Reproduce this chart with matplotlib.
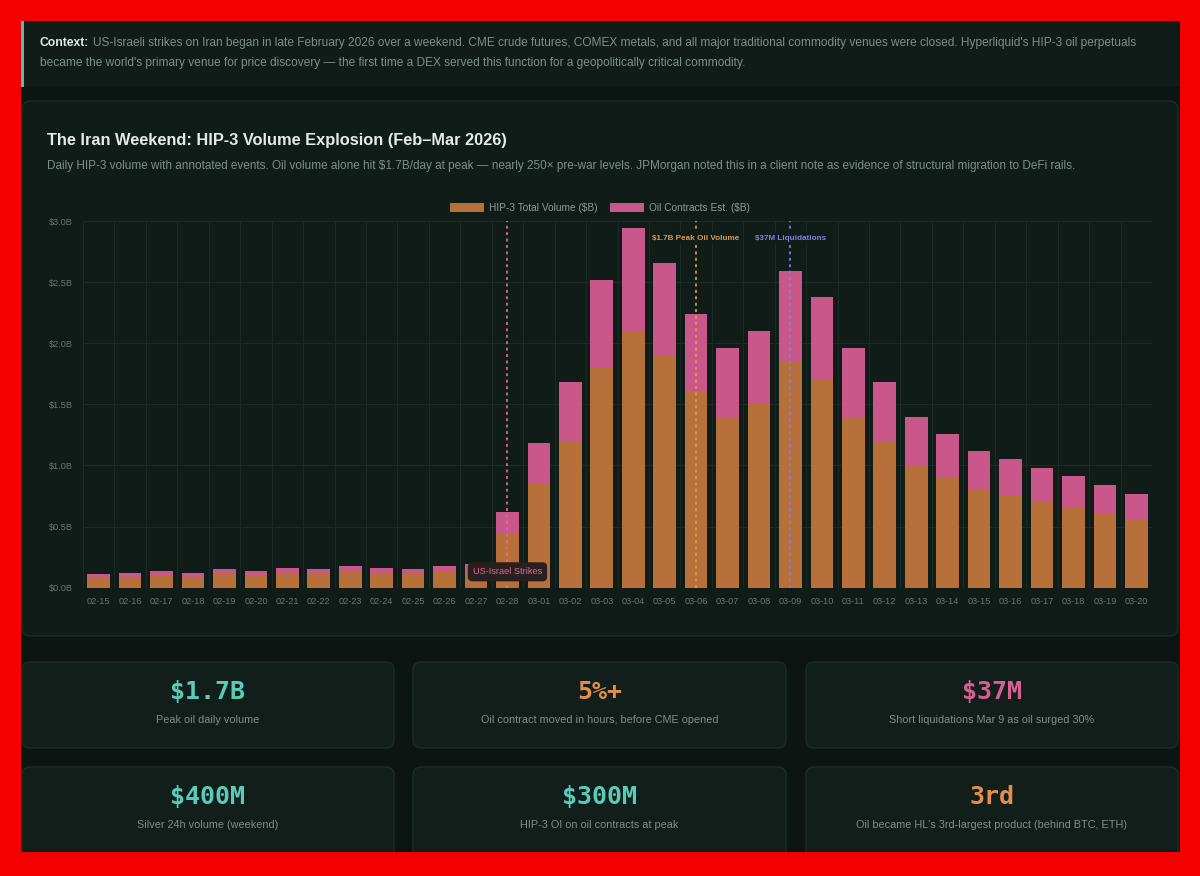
import numpy as np
import matplotlib
matplotlib.use("Agg")
import matplotlib.pyplot as plt
from matplotlib.patches import FancyBboxPatch, Rectangle, Patch

# ------------------------------------------------------------------
# Dados
# ------------------------------------------------------------------
dates = ["02-15", "02-16", "02-17", "02-18", "02-19", "02-20", "02-21",
         "02-22", "02-23", "02-24", "02-25", "02-26", "02-27", "02-28",
         "03-01", "03-02", "03-03", "03-04", "03-05", "03-06", "03-07",
         "03-08", "03-09", "03-10", "03-11", "03-12", "03-13", "03-14",
         "03-15", "03-16", "03-17", "03-18", "03-19", "03-20"]
hip3_total = [0.08, 0.09, 0.10, 0.09, 0.11, 0.10, 0.12, 0.11, 0.13, 0.12,
              0.11, 0.13, 0.14, 0.45, 0.85, 1.20, 1.80, 2.10, 1.90, 1.60,
              1.40, 1.50, 1.85, 1.70, 1.40, 1.20, 1.00, 0.90, 0.80, 0.75,
              0.70, 0.65, 0.60, 0.55]
oil_est = [0.03, 0.03, 0.04, 0.03, 0.04, 0.04, 0.04, 0.04, 0.05, 0.04,
           0.04, 0.05, 0.05, 0.17, 0.33, 0.48, 0.72, 0.84, 0.76, 0.64,
           0.56, 0.60, 0.74, 0.68, 0.56, 0.48, 0.40, 0.36, 0.32, 0.30,
           0.28, 0.26, 0.24, 0.22]

event_dates = ["02-28", "03-06", "03-09"]
event_labels = ["US-Israel Strikes", "$1.7B Peak Oil Volume", "$37M Liquidations"]

stat_values = ["$1.7B", "5%+", "$37M", "$400M", "$300M", "3rd"]
stat_labels = ["Peak oil daily volume",
               "Oil contract moved in hours, before CME opened",
               "Short liquidations Mar 9 as oil surged 30%",
               "Silver 24h volume (weekend)",
               "HIP-3 OI on oil contracts at peak",
               "Oil became HL's 3rd-largest product (behind BTC, ETH)"]

# ------------------------------------------------------------------
# Cores
# ------------------------------------------------------------------
RED = "#f40000"
PAGE = "#0c1512"
CTX_BG = "#111c19"
CARD_BG = "#101c18"
CARD_EDGE = "#1d2d28"
STAT_BG = "#121e1a"
GRID = "#1a2b26"
ORANGE = "#b8703a"
PINK = "#c9578a"
TXT = "#e4eae8"
MUTED = "#7d8f89"
TICK = "#66776f"
TEAL = "#5ccbb6"
ORANGE_V = "#e38e4c"
PINK_V = "#d6608f"

plt.rcParams["font.family"] = ["Liberation Sans", "DejaVu Sans"]

W, H = 1200, 876
fig = plt.figure(figsize=(W / 100, H / 100), dpi=100, facecolor=RED)

# eixo de fundo em coordenadas de pixel (y para baixo)
bg = fig.add_axes([0, 0, 1, 1])
bg.set_xlim(0, W)
bg.set_ylim(H, 0)
bg.axis("off")


def box(x0, y0, x1, y1, fc, ec="none", r=0, z=1, lw=1):
    if r > 0:
        p = FancyBboxPatch((x0, y0), x1 - x0, y1 - y0,
                           boxstyle=f"round,pad=0,rounding_size={r}",
                           fc=fc, ec=ec, lw=lw, zorder=z)
    else:
        p = Rectangle((x0, y0), x1 - x0, y1 - y0, fc=fc, ec=ec, lw=lw, zorder=z)
    bg.add_patch(p)


# página escura
box(21, 21, 1180, 880, PAGE, z=0)

# caixa de contexto
box(21, 21, 1180, 87, CTX_BG, z=1)
box(21, 21, 23.5, 87, "#5fb8a8", z=2)
renderer = fig.canvas.get_renderer()
t = bg.text(40, 43, "Context:", fontsize=8.7, fontweight="bold", color=TXT,
            va="center", ha="left", zorder=3)
bb = t.get_window_extent(renderer=renderer)
x_end = bg.transData.inverted().transform((bb.x1, bb.y0))[0]
bg.text(x_end + 4, 43,
        "US-Israeli strikes on Iran began in late February 2026 over a weekend. "
        "CME crude futures, COMEX metals, and all major traditional commodity venues "
        "were closed. Hyperliquid's HIP-3 oil perpetuals",
        fontsize=8.6, color=MUTED, va="center", ha="left", zorder=3)
bg.text(40, 63,
        "became the world's primary venue for price discovery \u2014 the first time a DEX "
        "served this function for a geopolitically critical commodity.",
        fontsize=8.6, color=MUTED, va="center", ha="left", zorder=3)

# cartão do gráfico
box(22, 101, 1178, 636, CARD_BG, ec=CARD_EDGE, r=9, z=1)
bg.text(47, 140, "The Iran Weekend: HIP-3 Volume Explosion (Feb\u2013Mar 2026)",
        fontsize=11.8, fontweight="bold", color=TXT, va="center", ha="left", zorder=3)
bg.text(47, 166,
        "Daily HIP-3 volume with annotated events. Oil volume alone hit $1.7B/day at peak "
        "\u2014 nearly 250\u00d7 pre-war levels. JPMorgan noted this in a client note as "
        "evidence of structural migration to DeFi rails.",
        fontsize=8.45, color=MUTED, va="center", ha="left", zorder=3)

# cartões de estatísticas
cols = [(22, 394), (413, 786), (806, 1178)]
rows = [(662, 748), (767, 870)]
value_colors = [TEAL, ORANGE_V, PINK_V, TEAL, TEAL, ORANGE_V]
for i, (val, lab) in enumerate(zip(stat_values, stat_labels)):
    (x0, x1), (y0, y1) = cols[i % 3], rows[i // 3]
    box(x0, y0, x1, y1, STAT_BG, ec=CARD_EDGE, r=8, z=1)
    cx = (x0 + x1) / 2
    bg.text(cx, y0 + 30, val, fontsize=18, fontweight="bold", color=value_colors[i],
            family="DejaVu Sans Mono", va="center", ha="center", zorder=3)
    bg.text(cx, y0 + 58, lab, fontsize=7.8, color=MUTED,
            va="center", ha="center", zorder=3)

# faixa vermelha inferior (moldura)
box(0, 852, W, H + 5, RED, z=10)
box(1180, 0, W + 5, H + 5, RED, z=10)

# ------------------------------------------------------------------
# Gráfico de barras empilhadas
# ------------------------------------------------------------------
px_l, px_r, px_t, px_b = 83, 1152, 221, 587.7
ax = fig.add_axes([px_l / W, 1 - px_b / H, (px_r - px_l) / W, (px_b - px_t) / H])
ax.set_facecolor("none")
ax.set_zorder(5)

x = np.arange(len(dates))
ax.bar(x, hip3_total, width=0.72, color=ORANGE, zorder=3)
ax.bar(x, oil_est, bottom=hip3_total, width=0.72, color=PINK, zorder=3)

ax.set_xlim(-0.5, len(dates) - 0.5)
ax.set_ylim(0, 3.0)
ax.set_yticks(np.arange(0, 3.01, 0.5))
ax.set_yticklabels([f"${v:.1f}B" for v in np.arange(0, 3.01, 0.5)])
ax.set_xticks(x)
ax.set_xticklabels(dates)
ax.set_xticks(np.arange(-0.5, len(dates), 1), minor=True)
ax.tick_params(axis="both", which="both", length=0, labelsize=6.6, colors=TICK)
ax.tick_params(axis="x", pad=7)
ax.tick_params(axis="y", pad=7)
ax.grid(axis="y", which="major", color=GRID, linewidth=0.8, zorder=0)
ax.grid(axis="x", which="minor", color=GRID, linewidth=0.8, zorder=0)
ax.grid(axis="x", which="major", visible=False)
for s in ax.spines.values():
    s.set_visible(False)

# linhas de eventos
ev_colors = ["#e0679a", "#e0954f", "#7d7fe6"]
for d, lab, c in zip(event_dates, event_labels, ev_colors):
    xi = dates.index(d)
    ax.axvline(xi, color=c, linestyle=(0, (1.5, 1.8)), linewidth=1.4, alpha=0.9, zorder=4)
    if d == "02-28":
        ax.text(xi, 0.13, lab, fontsize=6.6, color=c, ha="center", va="center", zorder=6,
                bbox=dict(boxstyle="round,pad=0.55,rounding_size=0.5",
                          fc="#2a1f1f", ec="none"))
    else:
        ax.text(xi, 2.86, lab, fontsize=5.9, fontweight="bold", color=c,
                ha="center", va="center", zorder=6,
                bbox=dict(boxstyle="square,pad=0.35", fc=CARD_BG, ec="none"))

# legenda (centrada no cartão, não no eixo)
handles = [Patch(fc=ORANGE, ec="none", label="HIP-3 Total Volume ($B)"),
           Patch(fc=PINK, ec="none", label="Oil Contracts Est. ($B)")]
leg_x = (600 - px_l) / (px_r - px_l)
leg = ax.legend(handles=handles, loc="center", bbox_to_anchor=(leg_x, 1.036), ncol=2,
                frameon=False, fontsize=7.3, handlelength=3.4, handleheight=0.95,
                columnspacing=1.2, handletextpad=0.5)
for tx in leg.get_texts():
    tx.set_color("#8b9b95")

fig.savefig("out.png", dpi=100, facecolor=RED)
